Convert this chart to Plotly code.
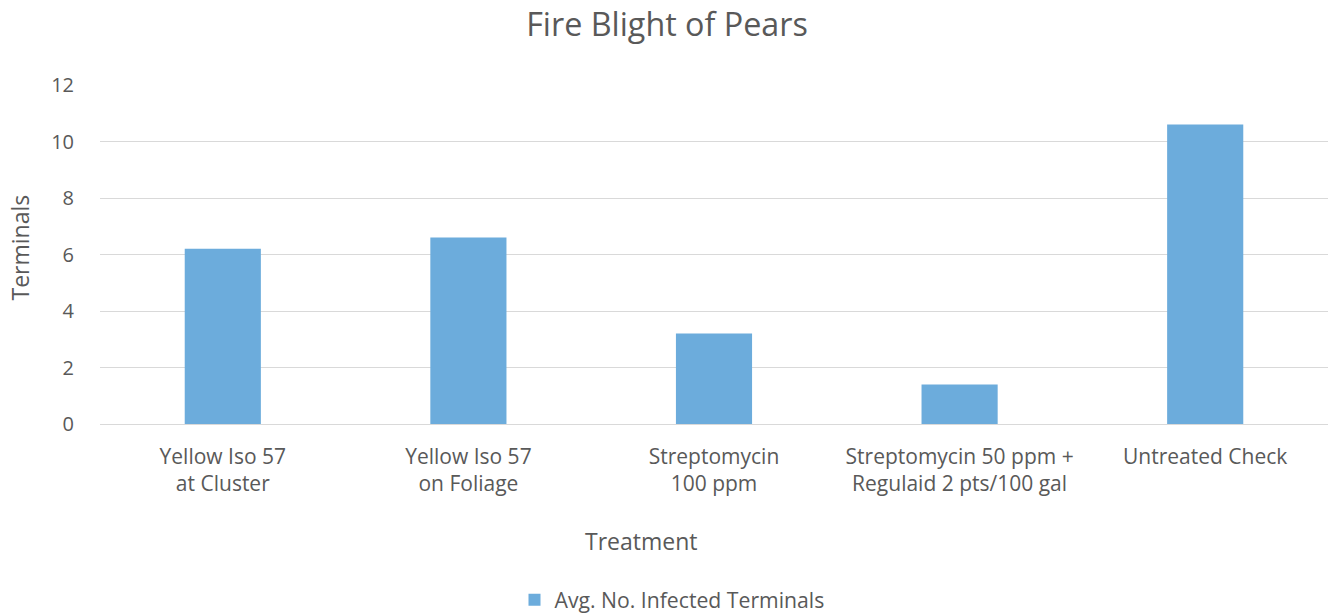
import plotly.graph_objects as go

categories = [
    "Yellow Iso 57<br>at Cluster",
    "Yellow Iso 57<br>on Foliage",
    "Streptomycin<br>100 ppm",
    "Streptomycin 50 ppm +<br>Regulaid 2 pts/100 gal",
    "Untreated Check",
]
values = [6.2, 6.6, 3.2, 1.4, 10.6]
series_name = "Avg. No. Infected Terminals"
y_ticks = [0, 2, 4, 6, 8, 10, 12]
x_title = "Treatment"
y_title = "Terminals"

text_color = "#595959"
font_family = "Open Sans"

# plot area in pixels: left 100, right 1328, top 85, bottom 424
PL, PW, PB, PH = 100, 1228, 424, 339

fig = go.Figure()
fig.add_trace(go.Bar(
    x=categories,
    y=values,
    name=series_name,
    marker=dict(color="#6CACDC", line=dict(width=0)),
    showlegend=True,
))

fig.update_layout(
    width=1334,
    height=615,
    margin=dict(l=100, r=6, t=85, b=191, autoexpand=False),
    paper_bgcolor="white",
    plot_bgcolor="white",
    font=dict(family=font_family, color=text_color, size=20),
    title=dict(
        text="Fire Blight of Pears",
        x=0.5, xanchor="center",
        y=1 - 25 / 615, yanchor="middle",
        font=dict(size=32.3, color=text_color, family=font_family),
    ),
    bargap=0.69,
    showlegend=True,
    legend=dict(
        orientation="h",
        x=(672 - PL) / PW, xanchor="center",
        y=(PB - 600) / PH, yanchor="middle",
        font=dict(size=21.2, color=text_color),
        itemwidth=30,
    ),
    xaxis=dict(
        automargin=False,
        showline=False,
        showgrid=False,
        ticks="",
        tickfont=dict(size=21),
        ticklabelstandoff=18,
    ),
    yaxis=dict(
        automargin=False,
        range=[0, 12],
        tickvals=y_ticks,
        showgrid=True,
        gridcolor="#D9D9D9",
        gridwidth=1,
        zeroline=True,
        zerolinecolor="#D9D9D9",
        zerolinewidth=1,
        ticks="",
        tickfont=dict(size=20),
        ticklabelstandoff=25,
    ),
    annotations=[
        dict(
            text=x_title, xref="paper", yref="paper",
            x=(641 - PL) / PW, y=(PB - 541) / PH,
            xanchor="center", yanchor="middle", showarrow=False,
            font=dict(size=23, color=text_color, family=font_family),
        ),
        dict(
            text=y_title, xref="paper", yref="paper",
            x=(19 - PL) / PW, y=(PB - 247.5) / PH,
            xanchor="center", yanchor="middle", showarrow=False,
            textangle=-90,
            font=dict(size=23, color=text_color, family=font_family),
        ),
    ],
)

post = (
    "document.body.style.margin='0';"
    "document.body.style.overflow='hidden';"
)

fig.write_html("out.html", post_script=post, config={"displayModeBar": False})
